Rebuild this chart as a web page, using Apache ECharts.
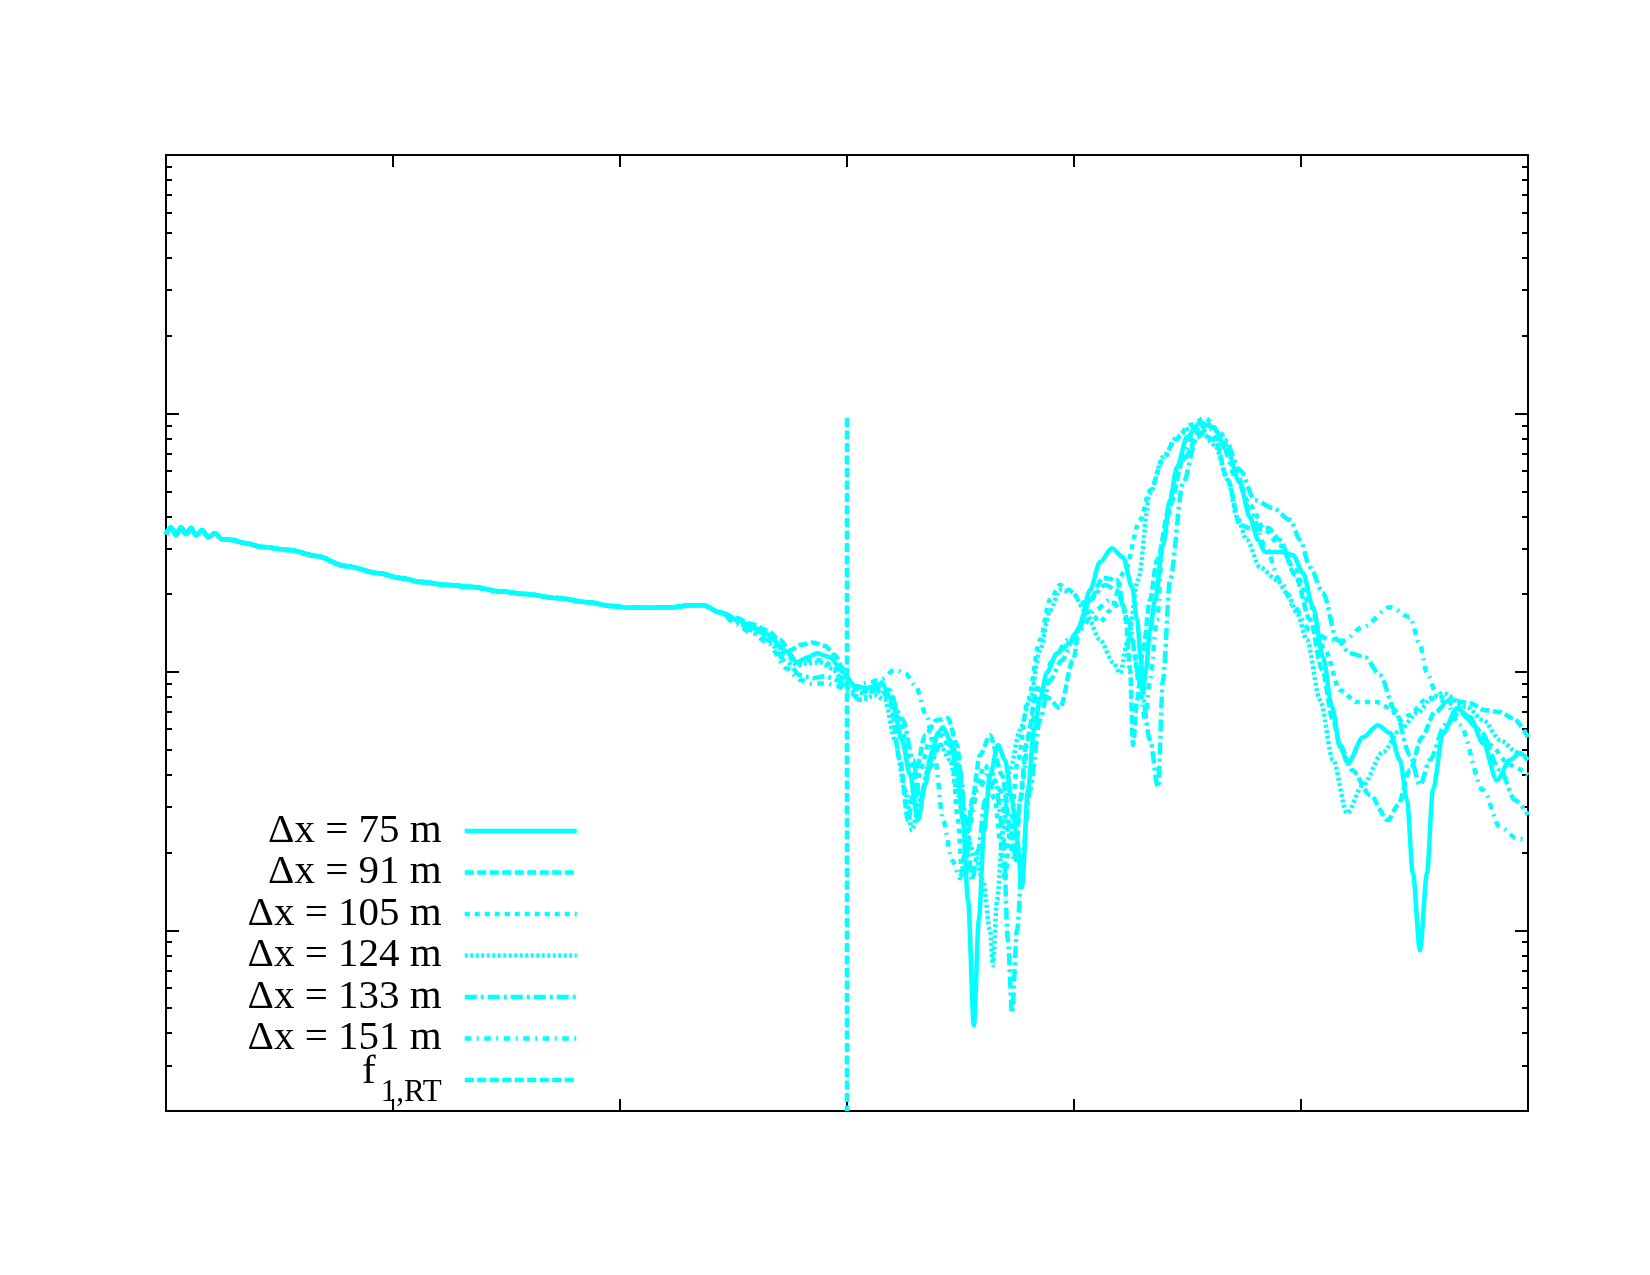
<!DOCTYPE html>
<html>
<head>
<meta charset="utf-8">
<script src="https://cdn.jsdelivr.net/npm/echarts@6/dist/echarts.min.js"></script>
<style>html,body{margin:0;padding:0;background:#fff}#c{width:1650px;height:1275px}</style>
</head>
<body>
<div id="c"></div>
<script>
// shared low-frequency part (identical for all resolutions)
const commonX = [0, 0.022, 0.044, 0.066, 0.088, 0.110, 0.132, 0.159, 0.185, 0.216, 0.247, 0.291, 0.348, 0.427, 0.546, 0.661, 0.789, 0.938, 1.031, 1.123, 1.238, 1.352, 1.471, 1.586, 1.722, 1.863, 1.956, 2.048, 2.141, 2.233, 2.308, 2.366, 2.441];
const commonY = [34.1, 36.3, 33.8, 36.3, 34.1, 36.0, 33.8, 35.4, 33.2, 34.4, 32.6, 32.4, 31.5, 30.4, 29.6, 28.1, 25.7, 24.1, 23.1, 22.3, 21.7, 21.3, 20.5, 20.0, 19.3, 18.6, 18.0, 17.7, 17.7, 17.8, 18.1, 18.1, 17.0];

const dx75 = [[2.511,16.0],[2.581,15.0],[2.648,14.0],[2.736,12.0],[2.780,10.9],[2.828,11.4],[2.868,11.8],[2.925,11.4],[2.982,9.98],[3.035,8.81],[3.088,8.66],[3.154,8.97],[3.198,7.78],[3.242,5.45],[3.278,3.99],[3.313,2.67],[3.344,3.65],[3.374,4.89],[3.401,5.80],[3.423,6.11],[3.454,5.45],[3.485,4.17],[3.511,2.67],[3.533,1.31],[3.559,0.430],[3.581,1.10],[3.604,2.44],[3.630,3.99],[3.665,5.21],[3.696,4.56],[3.727,3.19],[3.749,2.23],[3.771,1.47],[3.797,3.49],[3.824,5.95],[3.850,7.78],[3.881,9.98],[3.925,11.8],[3.982,12.9],[4.026,14.9],[4.070,20.7],[4.115,26.6],[4.167,30.1],[4.216,27.8],[4.256,21.3],[4.278,15.9],[4.295,11.1],[4.304,8.28],[4.317,10.2],[4.335,14.5],[4.357,19.0],[4.392,30.9],[4.423,46.2],[4.454,62.0],[4.498,81.0],[4.555,91.8],[4.612,88.6],[4.674,72.2],[4.731,53.8],[4.775,39.7],[4.811,32.4],[4.841,29.1],[4.921,29.1],[4.965,28.3],[5.009,24.1],[5.053,17.8],[5.097,11.4],[5.137,7.31],[5.172,5.12],[5.207,4.44],[5.273,5.59],[5.339,6.22],[5.392,5.80],[5.436,4.56],[5.467,3.19],[5.493,1.66],[5.524,0.838],[5.555,1.66],[5.581,3.49],[5.626,5.80],[5.687,7.24],[5.744,6.69],[5.802,5.30],[5.863,3.81],[5.921,4.56],[5.965,4.85],[6.000,4.56]];

const dx91 = [[2.511,16.2],[2.581,15.3],[2.648,14.5],[2.705,13.3],[2.749,12.1],[2.793,12.7],[2.850,13.0],[2.903,12.6],[2.947,11.6],[2.982,10.3],[3.004,9.30],[3.057,8.28],[3.101,8.50],[3.145,8.66],[3.189,7.78],[3.233,4.56],[3.269,2.67],[3.304,4.17],[3.344,5.69],[3.396,6.51],[3.445,6.62],[3.485,5.21],[3.507,3.49],[3.524,1.87],[3.551,3.19],[3.586,4.76],[3.630,5.69],[3.683,3.99],[3.718,2.51],[3.744,1.87],[3.762,3.19],[3.793,5.45],[3.837,8.66],[3.881,7.99],[3.938,7.24],[3.996,11.1],[4.026,15.2],[4.070,19.0],[4.128,23.1],[4.189,22.7],[4.225,17.3],[4.247,10.2],[4.260,5.21],[4.278,7.78],[4.304,12.1],[4.335,19.0],[4.366,27.1],[4.423,44.2],[4.480,66.0],[4.555,84.0],[4.621,78.9],[4.678,55.3],[4.731,37.0],[4.797,35.4],[4.855,36.0],[4.907,32.4],[4.974,23.7],[5.040,15.9],[5.093,10.2],[5.141,6.51],[5.172,5.21],[5.225,4.17],[5.304,3.34],[5.383,2.67],[5.427,3.05],[5.480,4.17],[5.533,5.59],[5.590,6.99],[5.656,7.78],[5.744,7.57],[5.811,7.11],[5.877,6.99],[5.934,6.62],[6.000,5.59]];

const dx105 = [[2.511,15.9],[2.581,14.9],[2.648,13.9],[2.736,11.6],[2.780,10.8],[2.837,11.1],[2.881,11.1],[2.934,10.6],[2.982,9.46],[3.004,8.81],[3.066,8.50],[3.137,9.30],[3.189,8.50],[3.233,6.51],[3.278,4.56],[3.300,3.19],[3.322,4.17],[3.366,5.45],[3.423,5.69],[3.463,4.56],[3.489,2.67],[3.507,1.64],[3.533,2.44],[3.564,3.49],[3.608,4.36],[3.652,3.19],[3.674,2.23],[3.696,1.56],[3.718,2.44],[3.753,4.56],[3.797,7.78],[3.850,13.3],[3.894,19.0],[3.938,21.7],[3.982,20.7],[4.026,19.0],[4.070,17.0],[4.115,15.6],[4.159,17.3],[4.225,24.8],[4.291,38.7],[4.335,50.5],[4.392,66.0],[4.445,78.9],[4.511,90.2],[4.577,96.0],[4.643,84.7],[4.709,60.4],[4.775,44.2],[4.841,35.4],[4.907,30.9],[4.974,24.8],[5.040,18.1],[5.106,12.1],[5.172,8.50],[5.247,7.64],[5.335,7.64],[5.392,7.24],[5.436,6.51],[5.480,6.81],[5.546,7.78],[5.612,7.99],[5.678,7.44],[5.744,6.51],[5.833,5.21],[5.921,4.36],[6.000,3.99]];

const dx124 = [[2.511,16.0],[2.581,14.8],[2.648,13.8],[2.736,11.8],[2.780,10.6],[2.828,10.8],[2.881,10.9],[2.934,10.3],[2.982,9.30],[3.004,8.66],[3.066,7.78],[3.123,8.13],[3.167,7.78],[3.211,5.45],[3.256,3.49],[3.286,2.44],[3.322,3.19],[3.366,4.56],[3.410,5.21],[3.454,4.56],[3.489,3.34],[3.520,2.44],[3.564,1.95],[3.599,1.56],[3.630,1.00],[3.643,0.733],[3.661,1.31],[3.687,2.44],[3.718,4.17],[3.762,5.95],[3.806,7.78],[3.850,12.1],[3.894,17.3],[3.938,20.7],[3.991,20.4],[4.048,17.3],[4.115,13.3],[4.172,10.9],[4.203,9.89],[4.238,13.3],[4.282,22.7],[4.335,49.2],[4.392,67.8],[4.454,81.0],[4.511,87.8],[4.555,86.2],[4.621,75.4],[4.678,55.3],[4.718,39.7],[4.762,32.4],[4.819,25.4],[4.894,22.7],[4.938,20.2],[4.982,16.9],[5.026,13.3],[5.084,7.78],[5.141,4.56],[5.203,2.84],[5.273,3.65],[5.361,4.89],[5.436,5.95],[5.511,6.93],[5.581,7.99],[5.626,8.28],[5.731,7.31],[5.802,6.51],[5.877,5.45],[5.952,4.89],[6.000,4.56]];

const dx133 = [[2.511,15.6],[2.581,14.5],[2.648,13.3],[2.736,10.9],[2.793,9.72],[2.850,9.46],[2.903,9.63],[2.956,9.30],[3.004,8.50],[3.057,7.78],[3.123,8.50],[3.189,8.13],[3.247,6.51],[3.291,4.56],[3.322,3.19],[3.357,4.17],[3.410,5.21],[3.463,5.21],[3.498,4.17],[3.524,2.67],[3.551,1.56],[3.577,2.04],[3.608,3.19],[3.652,3.81],[3.687,2.44],[3.709,0.917],[3.727,0.478],[3.749,1.00],[3.775,2.04],[3.806,3.49],[3.850,6.51],[3.894,9.30],[3.947,11.1],[4.004,13.9],[4.070,19.0],[4.137,21.7],[4.189,20.7],[4.238,15.9],[4.291,9.30],[4.335,5.45],[4.370,3.58],[4.392,9.30],[4.423,22.7],[4.480,53.8],[4.542,81.0],[4.599,90.2],[4.665,78.9],[4.731,60.4],[4.797,46.2],[4.877,43.0],[4.952,38.7],[4.996,32.4],[5.040,25.4],[5.097,20.2],[5.159,13.3],[5.216,11.8],[5.282,11.4],[5.348,9.72],[5.414,7.11],[5.480,4.76],[5.524,3.65],[5.568,4.56],[5.634,6.22],[5.700,6.99],[5.789,5.95],[5.877,4.17],[5.943,3.19],[6.000,2.79]];

const dx151 = [[2.511,15.3],[2.581,14.1],[2.648,13.0],[2.736,10.3],[2.793,9.30],[2.850,8.97],[2.903,9.05],[2.956,8.81],[3.004,8.35],[3.079,9.05],[3.145,9.30],[3.211,10.2],[3.256,9.89],[3.300,8.89],[3.352,6.69],[3.388,4.56],[3.423,2.67],[3.463,1.87],[3.498,1.59],[3.533,2.44],[3.577,3.49],[3.630,4.17],[3.674,3.49],[3.709,2.44],[3.736,1.87],[3.762,3.19],[3.806,5.95],[3.850,8.50],[3.916,11.6],[3.974,13.3],[4.026,14.5],[4.093,17.3],[4.159,19.0],[4.211,17.3],[4.256,13.3],[4.291,8.50],[4.313,6.51],[4.335,9.30],[4.366,15.9],[4.392,32.4],[4.454,60.4],[4.533,84.7],[4.586,90.2],[4.652,75.4],[4.718,55.3],[4.784,40.5],[4.841,30.9],[4.907,22.7],[4.965,18.1],[5.040,14.5],[5.128,13.3],[5.185,13.2],[5.273,14.9],[5.392,17.8],[5.480,16.3],[5.524,12.7],[5.555,9.89],[5.599,8.13],[5.643,7.44],[5.700,6.22],[5.802,3.49],[5.877,2.51],[5.952,2.27],[6.000,2.23]];

const f1RT = [[3.0, 96.0], [3.0, 0.2]];

const names = ['Δx = 75 m', 'Δx = 91 m', 'Δx = 105 m', 'Δx = 124 m', 'Δx = 133 m', 'Δx = 151 m', 'f1,RT'];
const tails = [dx75, dx91, dx105, dx124, dx133, dx151];
const dashes = ['solid', [9, 3.5], [5, 5], [3, 2.5], [12, 4, 3, 4], [6.5, 5.5, 2, 5.5]];

const yMajorTicks = [1, 10, 100, 1000];
const yMinorTicks = [0.3, 0.4, 0.5, 0.6, 0.7, 0.8, 0.9, 2, 3, 4, 5, 6, 7, 8, 9, 20, 30, 40, 50, 60, 70, 80, 90, 200, 300, 400, 500, 600, 700, 800, 900];

const CYAN = '#00ffff';
const LW = 4.5;
const common = commonX.map((x, i) => [x, commonY[i]]);

const series = tails.map((t, i) => ({
  name: names[i], type: 'line', data: common.concat(t),
  showSymbol: false, symbol: 'none', smooth: 0.3, smoothMonotone: 'x',
  lineStyle: { color: CYAN, width: LW, type: dashes[i], cap: 'butt' },
  itemStyle: { color: CYAN, opacity: 0 }, animation: false
}));
series.push({
  name: names[6], type: 'line', data: f1RT, showSymbol: false, symbol: 'none',
  lineStyle: { color: CYAN, width: LW, type: [9, 3.5], cap: 'butt' },
  itemStyle: { color: CYAN, opacity: 0 }, animation: false
});

const blk = { color: '#000', width: 2 };
function xAx(pos) {
  return { type: 'value', min: 0, max: 6, interval: 1, position: pos,
    axisLine: { show: true, onZero: false, lineStyle: blk },
    axisTick: { show: true, inside: true, length: 12, lineStyle: blk },
    axisLabel: { show: false }, splitLine: { show: false } };
}
function yAx(pos, ticks, len, line) {
  return { type: 'log', logBase: 10, min: 0.2, max: 1000, position: pos,
    axisLine: { show: line, lineStyle: blk },
    axisTick: { show: true, inside: true, length: len, customValues: ticks, lineStyle: blk },
    axisLabel: { show: false }, splitLine: { show: false }, minorTick: { show: false } };
}

const chart = echarts.init(document.getElementById('c'), null, { renderer: 'canvas' });
chart.setOption({
  backgroundColor: '#fff',
  animation: false,
  grid: { left: 166, top: 155, width: 1362, height: 956, containLabel: false, outerBoundsMode: 'none' },
  xAxis: [xAx('bottom'), xAx('top')],
  yAxis: [yAx('left', yMajorTicks, 13, true), yAx('left', yMinorTicks, 6, false),
          yAx('right', yMajorTicks, 13, true), yAx('right', yMinorTicks, 6, false)],
  legend: {
    data: names, orient: 'vertical', align: 'right', right: 1071, top: 803,
    padding: 0, itemGap: -14.5, itemWidth: 112, itemHeight: 2, selectedMode: false,
    itemStyle: { opacity: 0 },
    lineStyle: { width: LW, cap: 'butt' },
    formatter: n => n === 'f1,RT' ? '{a|f}{b|1,RT}' : n,
    textStyle: {
      fontFamily: 'Liberation Serif', fontSize: 41, color: '#000', lineHeight: 56, padding: [0, 18, 0, 0],
      rich: {
        a: { fontFamily: 'Liberation Serif', fontSize: 41, lineHeight: 40, color: '#000', verticalAlign: 'top' },
        b: { fontFamily: 'Liberation Serif', fontSize: 31, lineHeight: 56, color: '#000', verticalAlign: 'top', padding: [25, 0, 0, 5] }
      }
    }
  },
  series: series
});
</script>
</body>
</html>
